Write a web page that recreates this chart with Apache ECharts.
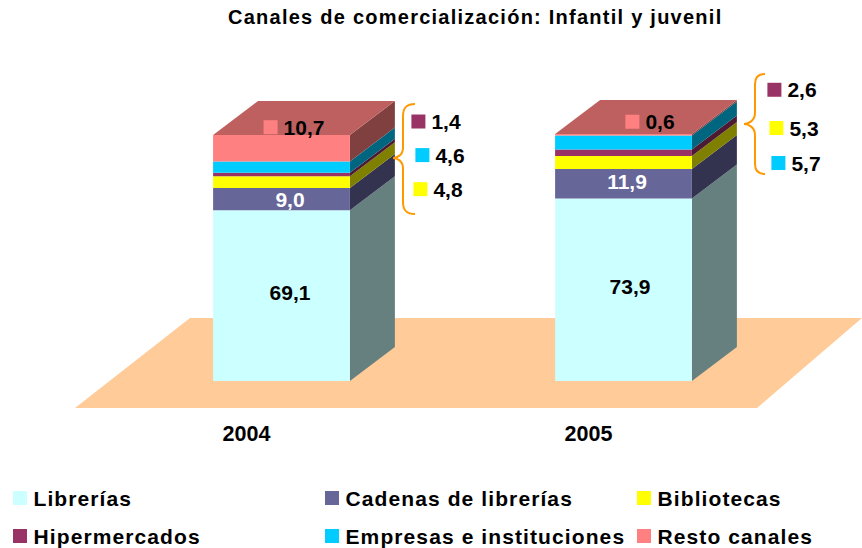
<!DOCTYPE html>
<html>
<head>
<meta charset="utf-8">
<style>
html,body{margin:0;padding:0;background:#fff}
#chart{width:862px;height:548px}
#chart text[style*="Arial"]{letter-spacing:1.1px}
#chart text[style*="20px"]{letter-spacing:1.25px}
</style>
<script src="https://cdn.jsdelivr.net/npm/echarts@6/dist/echarts.min.js"></script>
</head>
<body>
<div id="chart"></div>
<script>
const titleText = 'Canales de comercialización: Infantil y juvenil';
const years = ['2004', '2005'];
const seriesNames = ['Librerías', 'Cadenas de librerías', 'Bibliotecas', 'Hipermercados', 'Empresas e instituciones', 'Resto canales'];
const librerias = [69.1, 73.9];
const cadenas = [9.0, 11.9];
const bibliotecas = [4.8, 5.3];
const hipermercados = [1.4, 2.6];
const empresas = [4.6, 5.7];
const resto = [10.7, 0.6];
const seriesValues = [librerias, cadenas, bibliotecas, hipermercados, empresas, resto];

const frontColors = ['#CCFFFF', '#666699', '#FFFF00', '#993366', '#00CCFF', '#FF8080'];
const sideColors = ['#668080', '#333350', '#808000', '#4D1A33', '#006680', '#804040'];
const topColor = '#BF6060';
const labelColors = ['#000', '#fff', '#000', '#000', '#000', '#000'];
const labelKeyed = [false, false, true, true, true, true];
const labelOffsets = [
  [[8.5, -3.5], [6.5, -3]],
  [[8.5, 0], [3.5, -2]],
  [[156.5, 7], [170.5, -34.5]],
  [[154.5, -53], [168.5, -63]],
  [[158.5, -12], [172.5, 20.5]],
  [[12.5, -21], [26.5, -13]]
];
const legendSpots = [[13, 487.5], [325, 487.5], [637, 487.5], [13, 525.5], [325, 525.5], [637, 525.5]];
const depth = [45, -34];
const bodyFont = 'Liberation Sans';
const spacedFont = 'Liberation Sans, Arial';

const fmt = v => v.toFixed(1).replace('.', ',');

const stackRows = [];
years.forEach((y, c) => {
  let base = 0;
  seriesValues.forEach((vals, s) => {
    stackRows.push([c, base, base + vals[c], s, s === seriesValues.length - 1 ? 1 : 0]);
    base += vals[c];
  });
});

function renderDepth(params, api) {
  const c = api.value(0), lo = api.value(1), hi = api.value(2), s = api.value(3), isTop = api.value(4);
  const a = api.coord([c, lo]), b = api.coord([c, hi]);
  const hw = api.size([1, 0])[0] * 0.2;
  const xr = a[0] + hw, xl = a[0] - hw;
  const children = [{
    type: 'polygon',
    shape: { points: [[xr, a[1]], [xr + depth[0], a[1] + depth[1]], [xr + depth[0], b[1] + depth[1]], [xr, b[1]]] },
    style: { fill: sideColors[s] }
  }];
  if (isTop) {
    children.push({
      type: 'polygon',
      shape: { points: [[xl, b[1]], [xl + depth[0], b[1] + depth[1]], [xr + depth[0], b[1] + depth[1]], [xr, b[1]]] },
      style: { fill: topColor }
    });
  }
  return { type: 'group', children };
}

const barSeries = seriesNames.map((name, s) => ({
  name,
  type: 'bar',
  stack: 'total',
  z: 3,
  barWidth: '40%',
  itemStyle: { color: frontColors[s] },
  emphasis: { disabled: true },
  data: seriesValues[s].map((v, c) => ({
    value: v,
    label: { offset: labelOffsets[s][c] }
  })),
  label: {
    show: true,
    position: 'inside',
    color: labelColors[s],
    fontFamily: bodyFont,
    fontWeight: 'bold',
    fontSize: 21,
    formatter: p => labelKeyed[s] ? '{k|}{v|' + fmt(p.value) + '}' : fmt(p.value),
    rich: {
      k: { width: 14, height: 14, backgroundColor: frontColors[s] },
      v: { color: labelColors[s], fontFamily: bodyFont, fontWeight: 'bold', fontSize: 21, padding: [0, 0, 0, 6] }
    }
  }
}));

const depthSeries = {
  type: 'custom',
  z: 2,
  clip: false,
  silent: true,
  renderItem: renderDepth,
  encode: { x: 0, y: 2 },
  data: stackRows
};

const legends = seriesNames.map((name, s) => ({
  data: [name],
  left: legendSpots[s][0],
  top: legendSpots[s][1],
  padding: 0,
  itemWidth: 14,
  itemHeight: 14,
  icon: 'rect',
  selectedMode: false,
  textStyle: { color: '#000', fontFamily: spacedFont, fontWeight: 'bold', fontSize: 21, padding: [0, 0, 0, 1.5] }
}));

function brace(tipX, spineX, endX, topY, tipY, botY) {
  const ln = { stroke: '#FF9900', lineWidth: 2, fill: 'none' };
  const r = endX - spineX, t = spineX - tipX;
  const curve = (x1, y1, cx1, cy1, cx2, cy2, x2, y2) => ({
    type: 'bezierCurve', z: 5, silent: true,
    shape: { x1, y1, cpx1: cx1, cpy1: cy1, cpx2: cx2, cpy2: cy2, x2, y2 }, style: ln
  });
  const seg = (x1, y1, x2, y2) => ({ type: 'line', z: 5, silent: true, shape: { x1, y1, x2, y2 }, style: ln });
  return [
    curve(endX, topY, spineX + r * 0.3, topY, spineX, topY + r * 0.3, spineX, topY + r),
    seg(spineX, topY + r, spineX, tipY - t),
    curve(spineX, tipY - t, spineX, tipY - t * 0.3, tipX + t * 0.4, tipY, tipX, tipY),
    curve(tipX, tipY, tipX + t * 0.4, tipY, spineX, tipY + t * 0.3, spineX, tipY + t),
    seg(spineX, tipY + t, spineX, botY - r),
    curve(spineX, botY - r, spineX, botY - r * 0.3, spineX + r * 0.3, botY, endX, botY)
  ];
}

const chart = echarts.init(document.getElementById('chart'), null, { renderer: 'svg' });
chart.setOption({
  animation: false,
  backgroundColor: '#fff',
  title: {
    text: titleText,
    left: 228,
    top: 7,
    padding: 0,
    textStyle: { color: '#000', fontFamily: spacedFont, fontWeight: 'bold', fontSize: 20 }
  },
  legend: legends,
  grid: { left: 110.5, width: 684, top: 134, bottom: 167 },
  xAxis: {
    type: 'category',
    data: years,
    axisLine: { show: false },
    axisTick: { show: false },
    splitLine: { show: false },
    axisLabel: {
      color: '#000', fontFamily: bodyFont, fontWeight: 'bold', fontSize: 21.5,
      margin: 42, padding: [0, 70, 0, 0]
    }
  },
  yAxis: { type: 'value', min: 0, max: 100, show: false },
  graphic: [
    {
      type: 'polygon', z: 0, silent: true,
      shape: { points: [[190, 318], [862, 318], [757, 408], [75, 408]] },
      style: { fill: '#FFCC99' }
    }
  ].concat(brace(393, 403, 415, 104, 158, 214), brace(744, 755, 765, 74, 124, 174)),
  series: [depthSeries].concat(barSeries)
});
</script>
</body>
</html>
